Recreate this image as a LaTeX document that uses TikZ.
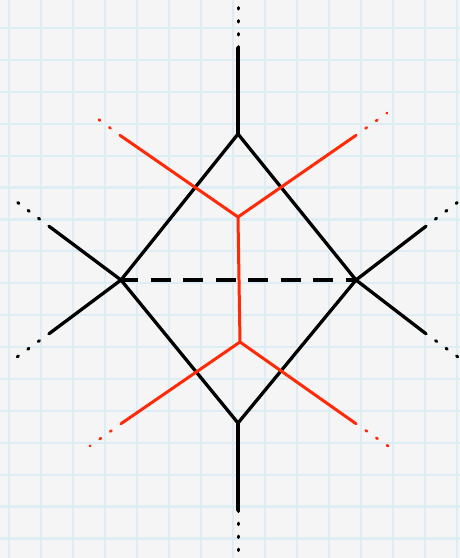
\documentclass[tikz,border=0pt]{standalone}
\usepackage{tikz}
\usetikzlibrary{calc}
\definecolor{paper}{RGB}{245,245,245}
\definecolor{gridblue}{RGB}{222,237,243}
\definecolor{dualred}{RGB}{255,42,8}

\begin{document}
\begin{tikzpicture}[
x=1pt,y=-1pt,
edge/.style={line width=3.3pt,line cap=round,black},
dedge/.style={edge,line cap=butt,dash pattern=on 20pt off 12.5pt,dash phase=3pt},
redge/.style={line width=3pt,line cap=round,dualred},
ext/.style={line width=3pt,line cap=round,dash pattern=on 1.5pt off 11.5pt},
rext/.style={ext,line width=2.7pt,dualred}
]
% paper
\useasboundingbox (0,0) rectangle (460,558);
\fill[paper] (0,0) rectangle (460,558);
\foreach \gx in {0,...,14}
  \draw[gridblue,line width=2.2pt] (9+32*\gx,0) -- (9+32*\gx,558);
\foreach \gy in {0,...,16}
  \draw[gridblue,line width=2.2pt] (0,28+31.9*\gy) -- (460,28+31.9*\gy);

% primal vertices
\coordinate (top) at (238,134);
\coordinate (left) at (121,280);
\coordinate (right) at (356,280);
\coordinate (bot) at (238,423);
% dual vertices
\coordinate (up) at (238,217);
\coordinate (dn) at (240,342);

% open ends
\coordinate (topa) at (238,48);   \coordinate (topb) at (238,6);
\coordinate (bota) at (238,510);  \coordinate (botb) at (238,553);
\coordinate (lua) at (50,227);    \coordinate (lub) at (17,202);
\coordinate (lda) at (50,333);    \coordinate (ldb) at (17,357);
\coordinate (rua) at (425,227);   \coordinate (rub) at (458,202);
\coordinate (rda) at (425,333);   \coordinate (rdb) at (458,357);
\coordinate (rula) at (121,136);  \coordinate (rulb) at (90,113);
\coordinate (rura) at (355,136);  \coordinate (rurb) at (387,113);
\coordinate (rdla) at (122,423);  \coordinate (rdlb) at (90,446);
\coordinate (rdra) at (355,423);  \coordinate (rdrb) at (388,446);

% black graph
\draw[edge] (top) -- (left) -- (bot) -- (right) -- cycle;
\draw[dedge] (left) -- (right);
\draw[edge] (top) -- (topa);
\draw[edge] (bot) -- (bota);
\draw[edge] (left) -- (lua);
\draw[edge] (left) -- (lda);
\draw[edge] (right) -- (rua);
\draw[edge] (right) -- (rda);
\draw[ext] (topa) -- (topb);
\draw[ext] (bota) -- (botb);
\draw[ext] (lua) -- (lub);
\draw[ext] (lda) -- (ldb);
\draw[ext] (rua) -- (rub);
\draw[ext] (rda) -- (rdb);

% red dual
\draw[redge] (up) -- (dn);
\draw[redge] (up) -- (rula);
\draw[redge] (up) -- (rura);
\draw[redge] (dn) -- (rdla);
\draw[redge] (dn) -- (rdra);
\draw[rext] (rula) -- (rulb);
\draw[rext] (rura) -- (rurb);
\draw[rext] (rdla) -- (rdlb);
\draw[rext] (rdra) -- (rdrb);
\end{tikzpicture}
\end{document}
